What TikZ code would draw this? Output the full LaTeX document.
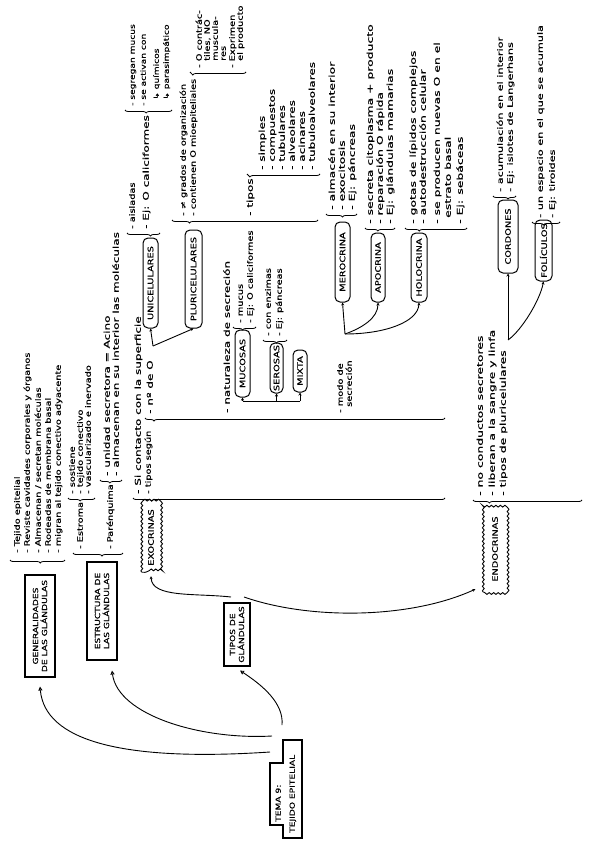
\documentclass[tikz,border=0pt]{standalone}
\usepackage{fontspec}
\setmainfont{DejaVu Sans}[FakeStretch=1.3, FakeBold=0.6]
\newfontfamily\wfont{DejaVu Sans}[FakeStretch=1.5, FakeBold=0.6]
\newfontfamily\xfont{DejaVu Sans}[FakeStretch=1.55, FakeBold=0.6]
\usetikzlibrary{decorations.pathreplacing,decorations.pathmorphing,arrows.meta}
\begin{document}
\begin{tikzpicture}[x=1pt,y=1pt,
  itm/.style={rotate=90, anchor=mid west, inner sep=0pt, font=\fontsize{7.5}{9}\selectfont},
  itms/.style={itm, font=\fontsize{7}{8}\selectfont},
  itmb/.style={itm, font=\wfont\fontsize{8}{9}\selectfont},
  itmw/.style={itm, font=\wfont\fontsize{7.5}{9}\selectfont},
  itmx/.style={itm, font=\xfont\fontsize{8}{9}\selectfont},
  rbox/.style={draw, line width=1pt, rounded corners=5pt, rotate=90, inner sep=0pt, font=\fontsize{7.5}{8}\selectfont},
  sbox/.style={draw, line width=1.1pt, rotate=90, inner sep=0pt, align=center, font=\fontsize{7}{9}\selectfont},
  wbox/.style={rotate=90, inner sep=0pt, font=\fontsize{7.5}{8}\selectfont},
  wavy/.style={line width=0.9pt, decorate, decoration={snake, amplitude=0.9pt, segment length=4.5pt}},
  brc/.style={draw, line width=0.8pt, decorate, decoration={brace, amplitude=3pt}},
  conn/.style={draw, line width=0.9pt},
  otip/.style={-{Triangle[open, length=4pt, width=4pt]}},
  ctip/.style={-{Stealth[length=3pt, width=3pt]}},
]
\useasboundingbox (0,0) rectangle (601,-848);

% ---- main boxes
\node[sbox, minimum width=102pt, minimum height=30pt] (gen) at (40,-626) {GENERALIDADES\\DE LAS GLÁNDULAS};
\node[sbox, minimum width=98pt, minimum height=30pt] (est) at (102,-611) {ESTRUCTURA DE\\LAS GLÁNDULAS};
\node[sbox, minimum width=63pt, minimum height=26pt] (tip) at (237,-634.5) {TIPOS DE\\GLÁNDULAS};
\node[itm, font=\fontsize{7}{8}\selectfont] (tema1) at (278,-822) {TEMA 9:};
\node[itm, font=\fontsize{7}{8}\selectfont] (tema2) at (292,-833) {TEJIDO EPITELIAL};
\draw[line width=1.1pt] (270,-763) -- (283,-763) -- (283,-740) -- (302,-740) -- (302,-838) -- (283,-838) -- (283,-825) -- (270,-825) -- cycle;

% ---- sub nodes
\node[wbox, minimum width=69pt, minimum height=18pt] (exo) at (151,-537.5) {EXOCRINAS};
\draw[wavy] (exo.north west) rectangle (exo.south east);
\node[wbox, minimum width=86pt, minimum height=23pt] (endo) at (495,-549) {ENDOCRINAS};
\draw[wavy] (endo.north west) rectangle (endo.south east);
\node[rbox, minimum width=90pt, minimum height=15pt] (uni) at (150.5,-283) {UNICELULARES};
\node[rbox, minimum width=98pt, minimum height=17pt] (pluri) at (193.5,-279) {PLURICELULARES};
\node[rbox, minimum width=67pt, minimum height=15pt] (muc) at (242.5,-363.5) {MUCOSAS};
\node[rbox, minimum width=50pt, minimum height=13pt] (ser) at (276.5,-368) {SEROSAS};
\node[rbox, minimum width=42pt, minimum height=14pt] (mix) at (300,-371) {MIXTA};
\node[rbox, minimum width=80pt, minimum height=15pt] (mero) at (342.5,-262) {MEROCRINA};
\node[rbox, minimum width=69pt, minimum height=14pt] (apo) at (378,-267.5) {APOCRINA};
\node[rbox, minimum width=69pt, minimum height=16pt] (holo) at (419,-267.5) {HOLOCRINA};
\node[rbox, minimum width=73pt, minimum height=20pt] (cord) at (508,-236.5) {CORDONES};
\node[rbox, minimum width=61pt, minimum height=17pt] (fol) at (543.5,-250.5) {FOLÍCULOS};

% ---- braces
\draw[brc, decoration={aspect=0.45}] (65,-560) -- (10,-560);
\draw[brc, decoration={aspect=0.42}] (123,-553) -- (73,-553);
\draw[brc, decoration={aspect=0.55}] (95,-498) -- (68,-498);
\draw[brc, decoration={aspect=0.55}] (122,-480) -- (100,-480);
\draw[brc, decoration={aspect=0.94}] (445,-498) -- (133,-498);
\draw[brc, decoration={aspect=0.97}] (445,-418) -- (145,-418);
\draw[brc, decoration={aspect=0.29}] (160,-233) -- (127,-233);
\draw[brc, decoration={aspect=0.55}] (172,-110) -- (125,-110);
\draw[brc, decoration={aspect=0.88}] (318,-220) -- (172,-220);
\draw[brc, decoration={aspect=0.95}] (246,-72) -- (190,-72);
\draw[brc, decoration={aspect=0.96}] (320,-174) -- (247,-174);
\draw[brc, decoration={aspect=0.58}] (256,-327) -- (233,-327);
\draw[brc, decoration={aspect=0.44}] (287,-340) -- (263,-340);
\draw[brc, decoration={aspect=0.47}] (357,-214) -- (326,-214);
\draw[brc, decoration={aspect=0.57}] (395,-228) -- (365,-228);
\draw[brc, decoration={aspect=0.77}] (467,-228) -- (405,-228);
\draw[brc, decoration={aspect=0.85}] (582,-500) -- (473,-500);
\draw[brc, decoration={aspect=0.35}] (516,-196) -- (493,-196);
\draw[brc, decoration={aspect=0.59}] (560,-222) -- (532,-222);

% ---- generalidades
\node[itm] (g1) at (17,-553) {- Tejido epitelial};
\node[itm] (g2) at (27,-553) {- Reviste cavidades corporales y órganos};
\node[itm] (g3) at (38,-553) {- Almacenan / secretan moléculas};
\node[itm] (g4) at (48,-553) {- Rodeadas de membrana basal};
\node[itm] (g5) at (58,-553) {- migran al tejido conectivo adyacente};

% ---- estructura
\node[itm] (e1) at (80,-549) {- Estroma};
\node[itm] (e2) at (110,-549) {- Parénquima};
\node[itm] (es1) at (72,-494) {- sostiene};
\node[itm] (es2) at (80,-494) {- tejido conectivo};
\node[itm] (es3) at (88,-494) {- vascularizado e inervado};
\node[itmb] (ep1) at (107,-476) {- unidad secretora = Acino};
\node[itmb] (ep2) at (116,-476) {- almacenan en su interior las moléculas};

% ---- exocrinas
\node[itmb] (x1) at (138,-494) {- Si contacto con la superficie};
\node[itm] (x2) at (148,-494) {- tipos según};
\node[itmb] (x3) at (150,-414) {- nº de O};
\node[itmb] (x4) at (227,-413) {- naturaleza de secreción};
\node[itm] (x5) at (340,-413) {- modo de};
\node[itm] (x6) at (349,-407) {secreción};

% ---- unicelulares
\node[itm] (u1) at (132,-229) {- aisladas};
\node[itmb] (u2) at (146,-229) {- Ej: O caliciformes};
\node[itms] (u3) at (132,-106) {- segregan mucus};
\node[itms] (u4) at (143,-106) {- se activan con};
\node[itms] (u5) at (156,-100) {↳ químicos};
\node[itms] (u6) at (166,-100) {↳ parasimpático};

% ---- pluricelulares
\node[itm] (p1) at (183,-216) {- ≠ grados de organización};
\node[itm] (p2) at (193,-216) {- contienen O mioepiteliales};
\node[itmb] (p3) at (250,-216) {- tipos};
\node[itm] (m1) at (199,-68) {- O contrác-};
\node[itm] (m2) at (207,-61) {tiles, NO};
\node[itm] (m3) at (215,-61) {muscula-};
\node[itm] (m4) at (223,-61) {res};
\node[itm] (m5) at (232,-68) {- Exprimen};
\node[itm] (m6) at (240,-61) {el producto};
\node[itmb] (t1) at (262,-170) {- simples};
\node[itmb] (t2) at (272,-170) {- compuestos};
\node[itmb] (t3) at (282,-170) {- tubulares};
\node[itmb] (t4) at (292,-170) {- alveolares};
\node[itmb] (t5) at (302,-170) {- acinares};
\node[itmb] (t6) at (312,-170) {- tubuloalveolares};

% ---- naturaleza
\node[itm] (mu1) at (240,-323) {- mucus};
\node[itm] (mu2) at (250,-323) {- Ej: O caliciformes};
\node[itm] (se1) at (268,-336) {- con enzimas};
\node[itm] (se2) at (279,-336) {- Ej: páncreas};

% ---- modo de secrecion
\node[itmx] (me1) at (332,-210) {- almacén en su interior};
\node[itmx] (me2) at (342,-210) {- exocitosis};
\node[itmx] (me3) at (352,-210) {- Ej: páncreas};
\node[itmx] (ap1) at (370,-224) {- secreta citoplasma + producto};
\node[itmx] (ap2) at (380,-224) {- reparación O rápida};
\node[itmx] (ap3) at (390,-224) {- Ej: glándulas mamarias};
\node[itmx] (ho1) at (413,-224) {- gotas de lípidos complejos};
\node[itmx] (ho2) at (423,-224) {- autodestrucción celular};
\node[itmx] (ho3) at (437,-224) {- se producen nuevas O en el};
\node[itmx] (ho4) at (448,-218) {estrato basal};
\node[itmx] (ho5) at (460,-224) {- Ej: sebáceas};

% ---- endocrinas
\node[itmx] (en1) at (480,-496) {- no conductos secretores};
\node[itmx] (en2) at (492,-496) {- liberan a la sangre y linfa};
\node[itmx] (en3) at (503,-496) {- tipos de pluricelulares};
\node[itmw] (co1) at (500,-192) {- acumulación en el interior};
\node[itmw] (co2) at (510,-192) {- Ej: islotes de Langerhans};
\node[itmw] (fo1) at (540,-218) {- un espacio en el que se acumula};
\node[itmw] (fo2) at (552,-218) {- Ej: tiroides};

% ---- connectors
\coordinate (ta) at (270,-752);
\coordinate (tb) at (272,-736);
\coordinate (tc) at (282,-725);
\draw[conn,otip] (ta) .. controls (120,-762) and (45,-740) .. ([yshift=-9pt]gen.west);
\draw[conn,otip] (tb) .. controls (200,-740) and (118,-715) .. ([xshift=10pt,yshift=-10pt]est.west);
\draw[conn,otip] (tc) .. controls (284,-703) and (262,-685) .. ([xshift=3pt,yshift=-4pt]tip.west);
\coordinate (td) at (231,-597);
\coordinate (te) at (244,-597);
\draw[conn,ctip] (td) .. controls (195,-593) and (152,-598) .. ([yshift=-4pt]exo.west);
\draw[conn,ctip] (te) .. controls (310,-620) and (410,-619) .. ([xshift=-8pt,yshift=3pt]endo.north west);

\coordinate (f1) at (153,-346);
\draw[conn,ctip] (f1) -- (uni.west);
\draw[conn,ctip] (f1) -- (pluri.west);

\coordinate (nbm) at (242.5,-401);
\coordinate (nbs) at (276.5,-401);
\coordinate (nbx) at (300,-401);
\draw[conn] (nbm) -- (nbx);
\draw[conn,ctip] (nbm) -- (muc.west);
\draw[conn,ctip] (nbs) -- (ser.west);
\draw[conn,ctip] (nbx) -- (mix.west);

\coordinate (f2) at (345,-334);
\draw[conn,ctip] (f2) -- (mero.west);
\draw[conn,ctip] (f2) .. controls (362,-328) and (378,-318) .. (apo.west);
\draw[conn,ctip] (f2) .. controls (385,-334) and (418,-322) .. (holo.west);

\coordinate (f3) at (508,-340);
\draw[conn,ctip] (f3) -- (cord.west);
\draw[conn,ctip] (f3) .. controls (522,-330) and (540,-300) .. (fol.west);
\end{tikzpicture}
\end{document}
